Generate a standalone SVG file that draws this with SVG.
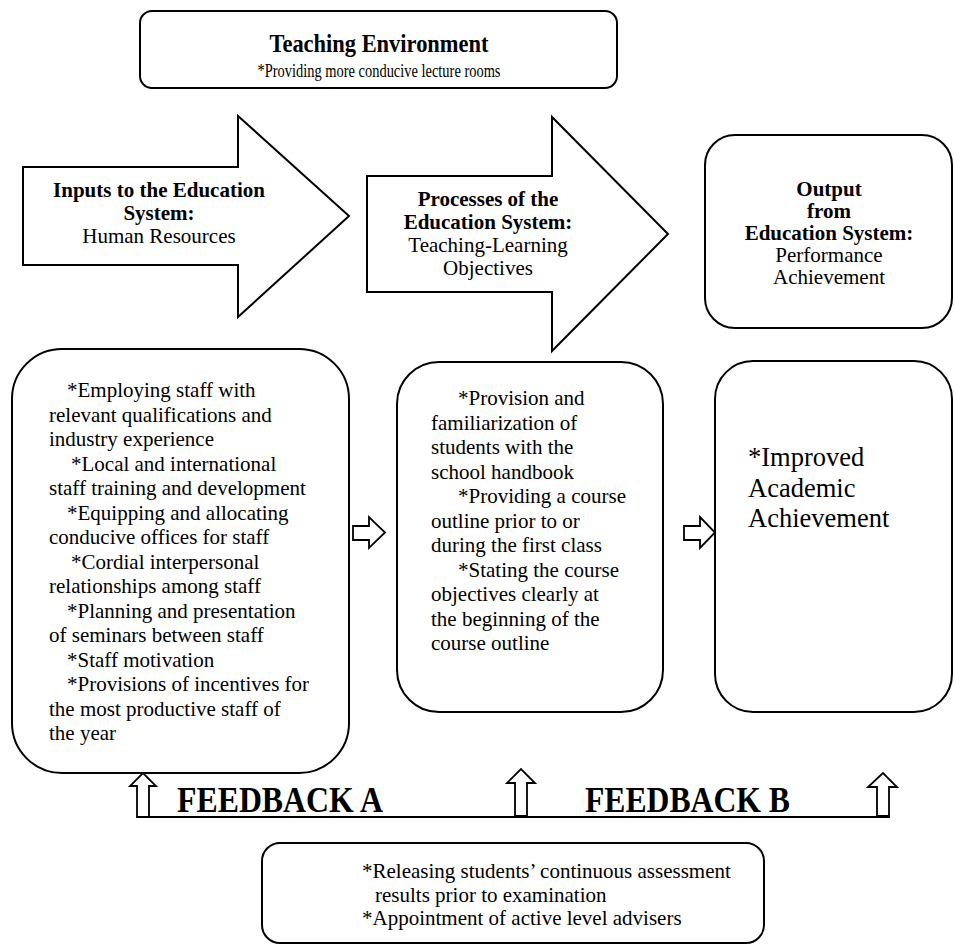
<svg xmlns="http://www.w3.org/2000/svg" width="954" height="946" viewBox="0 0 954 946" font-family="'Liberation Serif', 'Times New Roman', 'DejaVu Serif', serif">
<style>
  .box { fill: #fff; stroke: #000; stroke-width: 2; }
  .big { fill: #fff; stroke: #000; stroke-width: 2; stroke-linejoin: miter; }
  .sm { fill: #fff; stroke: #000; stroke-width: 1.8; stroke-linejoin: miter; }
  text { font-family: 'Liberation Serif', 'Times New Roman', 'DejaVu Serif', serif; fill: #000; }
  .b { font-weight: bold; }
  .t21 { font-size: 21px; }
  .mid { text-anchor: middle; }
</style>
<rect width="954" height="946" fill="#fff"/>

<g id="teaching-environment">
  <rect class="box" x="140" y="11" width="477" height="77" rx="12"/>
  <text class="b mid" x="379" y="52" font-size="25" textLength="219" lengthAdjust="spacingAndGlyphs">Teaching Environment</text>
  <text class="mid" x="379" y="77" font-size="19" textLength="243" lengthAdjust="spacingAndGlyphs">*Providing more conducive lecture rooms</text>
</g>

<g id="inputs">
  <path class="big" d="M23,167 L238,167 L238,116 L349,216 L238,317 L238,265 L23,265 Z"/>
  <text class="b mid t21" x="159" y="197">Inputs to the Education</text>
  <text class="b mid t21" x="159" y="220">System:</text>
  <text class="mid t21" x="159" y="243">Human Resources</text>
</g>

<g id="processes">
  <path class="big" d="M367,176 L552,176 L552,117 L668,234 L552,351 L552,292 L367,292 Z"/>
  <text class="b mid t21" x="488" y="206">Processes of the</text>
  <text class="b mid t21" x="488" y="229">Education System:</text>
  <text class="mid t21" x="488" y="252">Teaching-Learning</text>
  <text class="mid t21" x="488" y="275">Objectives</text>
</g>

<g id="output">
  <rect class="box" x="705" y="135" width="247" height="193" rx="30"/>
  <text class="b mid t21" x="829" y="196">Output</text>
  <text class="b mid t21" x="829" y="218">from</text>
  <text class="b mid t21" x="829" y="240">Education System:</text>
  <text class="mid t21" x="829" y="262">Performance</text>
  <text class="mid t21" x="829" y="284">Achievement</text>
</g>

<g id="inputs-detail">
  <rect class="box" x="12" y="349" width="337" height="424" rx="50"/>
  <text class="t21" x="67" y="397">*Employing staff with</text>
  <text class="t21" x="49" y="421.5">relevant qualifications and</text>
  <text class="t21" x="49" y="446">industry experience</text>
  <text class="t21" x="71" y="470.5">*Local and international</text>
  <text class="t21" x="49" y="495">staff training and development</text>
  <text class="t21" x="67" y="519.5">*Equipping and allocating</text>
  <text class="t21" x="49" y="544">conducive offices for staff</text>
  <text class="t21" x="71" y="568.5">*Cordial interpersonal</text>
  <text class="t21" x="49" y="593">relationships among staff</text>
  <text class="t21" x="67" y="617.5">*Planning and presentation</text>
  <text class="t21" x="49" y="642">of seminars between staff</text>
  <text class="t21" x="67" y="666.5">*Staff motivation</text>
  <text class="t21" x="67" y="691">*Provisions of incentives for</text>
  <text class="t21" x="49" y="715.5">the most productive staff of</text>
  <text class="t21" x="49" y="740">the year</text>
</g>

<g id="processes-detail">
  <rect class="box" x="397" y="362" width="266" height="350" rx="42"/>
  <text class="t21" x="458" y="405">*Provision and</text>
  <text class="t21" x="431" y="429.5">familiarization of</text>
  <text class="t21" x="431" y="454">students with the</text>
  <text class="t21" x="431" y="478.5">school handbook</text>
  <text class="t21" x="458" y="503">*Providing a course</text>
  <text class="t21" x="431" y="527.5">outline prior to or</text>
  <text class="t21" x="431" y="552">during the first class</text>
  <text class="t21" x="458" y="576.5">*Stating the course</text>
  <text class="t21" x="431" y="601">objectives clearly at</text>
  <text class="t21" x="431" y="625.5">the beginning of the</text>
  <text class="t21" x="431" y="650">course outline</text>
</g>

<g id="output-detail">
  <rect class="box" x="715" y="361" width="237" height="351" rx="38"/>
  <text x="748" y="466" font-size="26.5">*Improved</text>
  <text x="748" y="497" font-size="26.5">Academic</text>
  <text x="748" y="527" font-size="26.5">Achievement</text>
</g>

<g id="feedback-actions">
  <rect class="box" x="262" y="843" width="502" height="100" rx="18"/>
  <text class="t21" x="362" y="878">*Releasing students’ continuous assessment</text>
  <text class="t21" x="375" y="902">results prior to examination</text>
  <text class="t21" x="362" y="925">*Appointment of active level advisers</text>
</g>

<g id="feedback-labels">
  <text class="b" x="177" y="812" font-size="35" textLength="206" lengthAdjust="spacingAndGlyphs">FEEDBACK A</text>
  <text class="b" x="585" y="812" font-size="35" textLength="205" lengthAdjust="spacingAndGlyphs">FEEDBACK B</text>
</g>

<g id="connectors">
  <path class="sm" d="M353,526 L369,526 L369,517 L385,532.5 L369,548 L369,540 L353,540 Z"/>
  <path class="sm" d="M684,526 L700,526 L700,517 L715,532.5 L700,548 L700,540 L684,540 Z"/>
  <line x1="137" y1="817" x2="890" y2="817" stroke="#000" stroke-width="2"/>
  <path class="sm" d="M137,817 L137,786 L130,786 L143,773 L156,786 L149,786 L149,817 Z"/>
  <path class="sm" d="M515,816 L515,783 L507,783 L521,769 L535,783 L527,783 L527,816 Z"/>
  <path class="sm" d="M877,816 L877,787 L868,787 L883,773 L897,787 L889,787 L889,816 Z"/>
</g>
</svg>
